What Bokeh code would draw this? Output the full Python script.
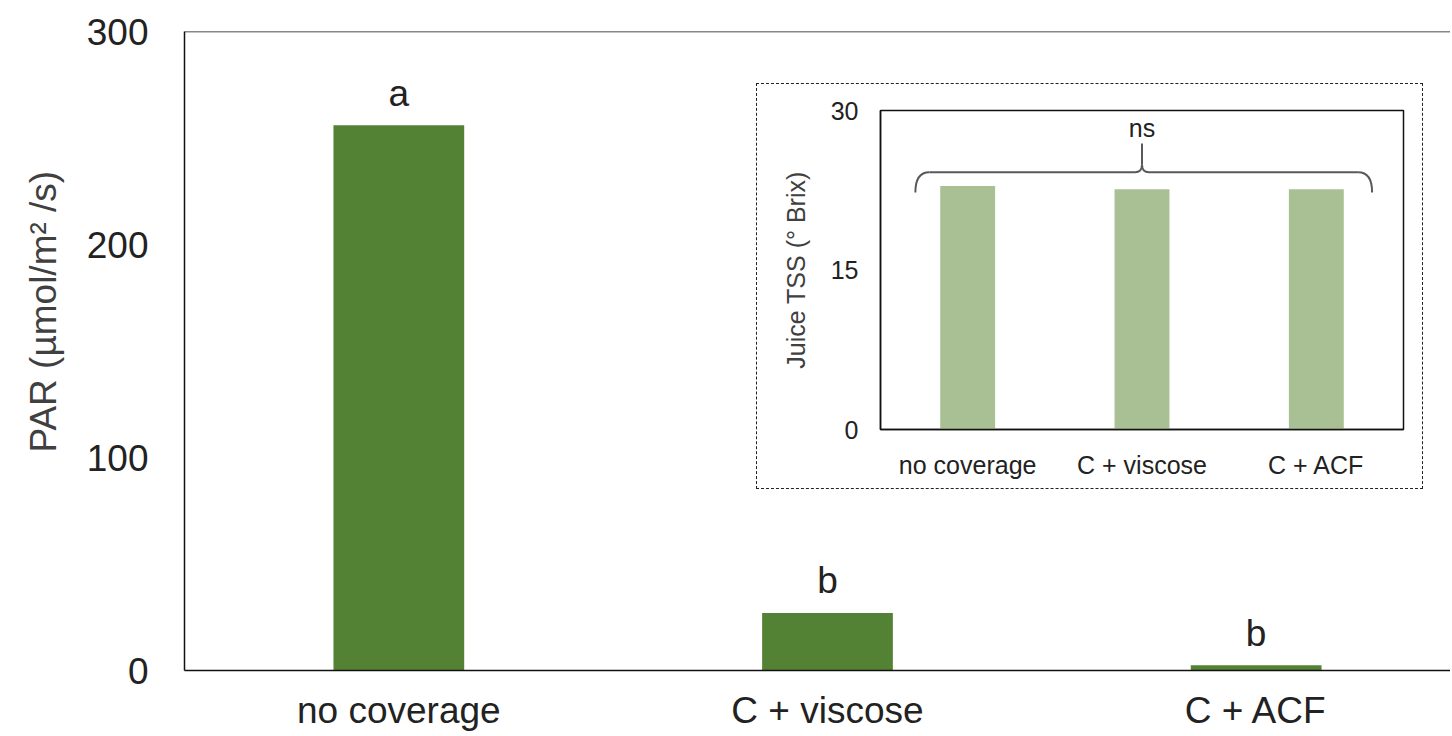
from bokeh.plotting import figure
from bokeh.models import FixedTicker, Span, ColumnDataSource, Title
from bokeh.core.properties import value
from bokeh.embed import file_html
from bokeh.resources import INLINE

# ---- data ----
categories = ["no coverage", "C + viscose", "C + ACF"]
par_values = [256, 27, 2.5]
par_letters = ["a", "b", "b"]
tss_values = [22.9, 22.6, 22.6]
tss_label = "ns"
par_title = "PAR (µmol/m² /s)"
tss_title = "Juice TSS (° Brix)"

FONT = "Liberation Sans"
xs = [i + 0.5 for i in range(len(categories))]

# ---- main figure ----
W, H = 1450, 734
FW = W - 183
p = figure(width=W, height=H, output_backend="svg", toolbar_location=None,
           x_range=(0, FW / 429), y_range=(0, 300),
           min_border_left=183, min_border_right=0, min_border_top=31, min_border_bottom=H - 670)
p.outline_line_color = None
p.xgrid.grid_line_color = None
p.ygrid.grid_line_color = None

src = ColumnDataSource(dict(x=xs, top=par_values, lab=par_letters))
p.vbar(x="x", top="top", width=0.305, bottom=0, source=src,
       fill_color="#548235", line_color=None)
p.text(x="x", y="top", text="lab", source=src, text_align="center",
       text_baseline="alphabetic", y_offset=-32, text_font=value(FONT),
       text_font_size="37px", text_color="#222222")

p.add_layout(Span(location=300, dimension="width", line_color="#111111", line_width=1.5))

p.yaxis.ticker = FixedTicker(ticks=[0, 100, 200, 300])
p.xaxis.ticker = FixedTicker(ticks=xs)
p.xaxis.major_label_overrides = {x: c for x, c in zip(xs, categories)}
for ax in (p.xaxis[0], p.yaxis[0]):
    ax.major_tick_line_color = None
    ax.minor_tick_line_color = None
    ax.major_tick_out = 0
    ax.major_tick_in = 0
    ax.minor_tick_out = 0
    ax.minor_tick_in = 0
    ax.axis_line_color = "#111111"
    ax.axis_line_width = 1.5
    ax.major_label_text_font = FONT
    ax.major_label_text_font_size = "37px"
    ax.major_label_text_color = "#222222"
p.yaxis.major_label_standoff = 36
p.xaxis.major_label_standoff = 19

# y-axis title, set above the frame centre as in the original
p.add_layout(Title(text=par_title, align="left", offset=218, standoff=40,
                   text_font=FONT, text_font_size="37px", text_font_style="normal",
                   text_color="#404040"), "left")
p.styles = {"position": "absolute", "left": "0px", "top": "0px"}

# ---- inset figure ----
q = figure(width=667, height=406, output_backend="svg", toolbar_location=None,
           x_range=(0, 3), y_range=(0, 30),
           min_border_left=123, min_border_right=21, min_border_top=26, min_border_bottom=61)
q.outline_line_color = "#111111"
q.outline_line_width = 1.5
q.xgrid.grid_line_color = None
q.ygrid.grid_line_color = None
q.vbar(x=xs, top=tss_values, width=0.315, bottom=0, fill_color="#a9c095", line_color=None)
q.yaxis.ticker = FixedTicker(ticks=[0, 15, 30])
q.xaxis.ticker = FixedTicker(ticks=xs)
q.xaxis.major_label_overrides = {x: c for x, c in zip(xs, categories)}
for ax in (q.xaxis[0], q.yaxis[0]):
    ax.major_tick_line_color = None
    ax.minor_tick_line_color = None
    ax.major_tick_out = 0
    ax.major_tick_in = 0
    ax.minor_tick_out = 0
    ax.minor_tick_in = 0
    ax.axis_line_color = "#111111"
    ax.axis_line_width = 1.5
    ax.major_label_text_font = FONT
    ax.major_label_text_font_size = "25px"
    ax.major_label_text_color = "#222222"
q.yaxis.major_label_standoff = 22
q.xaxis.major_label_standoff = 21
q.yaxis.axis_label = tss_title
q.yaxis.axis_label_text_font = FONT
q.yaxis.axis_label_text_font_style = "normal"
q.yaxis.axis_label_text_font_size = "25px"
q.yaxis.axis_label_text_color = "#404040"
q.yaxis.axis_label_standoff = 18

# brace over all three inset bars
bx0, bx1, bmid = 0.2, 2.82, 1.5
y_end, y_h, y_tip = 22.3, 24.2, 26.9
bc = "#595959"
q.quadratic(x0=[bx0, bx1], y0=[y_end, y_end], x1=[bx0 + 0.08, bx1 - 0.08], y1=[y_h, y_h],
            cx=[bx0, bx1], cy=[y_h, y_h], line_color=bc, line_width=2)
q.segment(x0=[bx0 + 0.08, bmid + 0.04], y0=[y_h, y_h], x1=[bmid - 0.04, bx1 - 0.08], y1=[y_h, y_h],
          line_color=bc, line_width=2)
q.quadratic(x0=[bmid - 0.04, bmid + 0.04], y0=[y_h, y_h], x1=[bmid, bmid], y1=[y_h + 0.7, y_h + 0.7],
            cx=[bmid, bmid], cy=[y_h, y_h], line_color=bc, line_width=2)
q.segment(x0=[bmid], y0=[y_h + 0.7], x1=[bmid], y1=[y_tip], line_color=bc, line_width=2)
q.text(x=[bmid], y=[y_tip], text=[tss_label], text_align="center", text_baseline="bottom",
       y_offset=-1, text_font=value(FONT), text_font_size="25px", text_color="#222222")

q.styles = {"position": "absolute", "left": "756px", "top": "83px",
            "border": "1px dashed #222222"}

# two independent roots, so that Bokeh does not align the two frames
open("out.html", "w").write(file_html([p, q], INLINE))
